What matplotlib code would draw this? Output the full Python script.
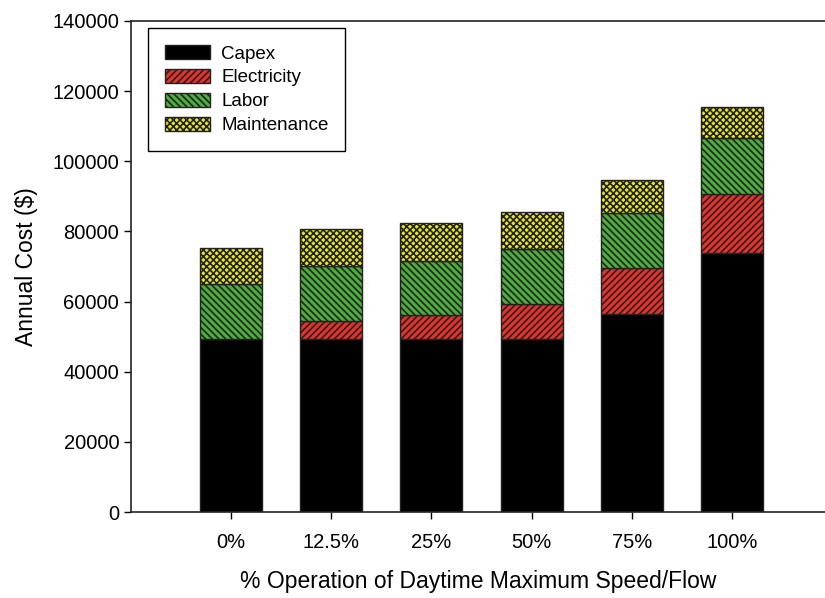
import numpy as np
import matplotlib
matplotlib.use("Agg")
import matplotlib.pyplot as plt

plt.rcParams['font.family'] = ['Liberation Sans', 'DejaVu Sans']
plt.rcParams['hatch.linewidth'] = 1.2

categories = ["0%", "12.5%", "25%", "50%", "75%", "100%"]
capex = [49300, 49300, 49300, 49300, 56400, 73900]
electricity = [0, 5200, 6900, 10100, 13100, 16700]
labor = [15600, 15600, 15500, 15500, 15700, 16000]
maintenance = [10300, 10600, 10600, 10500, 9500, 8800]

series = [("Capex", capex, "black", ""),
          ("Electricity", electricity, "#e8312a", "/////"),
          ("Labor", labor, "#4caf3c", "\\\\\\\\\\"),
          ("Maintenance", maintenance, "#e8e81c", "xxxxx")]

fig = plt.figure(figsize=(8.25, 5.98), dpi=100)
ax = fig.add_axes([131 / 825, 86 / 598, 1 - 131 / 825, 491 / 598])

x = np.arange(len(categories))
bottom = np.zeros(len(categories))
for name, vals, color, hatch in series:
    ax.bar(x, vals, 0.62, bottom=bottom, color=color, hatch=hatch,
           edgecolor="#222222", linewidth=1.0, label=name)
    bottom += np.array(vals)

ax.set_xlim(-1.0, 5.93)
ax.set_ylim(0, 140000)
ax.set_yticks(np.arange(0, 140001, 20000))
ax.set_xticks(x)
ax.set_xticklabels(categories)
ax.tick_params(axis='both', direction='out', length=5, width=1, labelsize=14.5)
ax.tick_params(axis='x', pad=10)
ax.spines['right'].set_visible(False)
for s in ['left', 'top', 'bottom']:
    ax.spines[s].set_linewidth(1.2)
    ax.spines[s].set_color("#222222")

ax.set_ylabel("Annual Cost ($)", fontsize=16.5, labelpad=10)
ax.set_xlabel("% Operation of Daytime Maximum Speed/Flow", fontsize=16.5, labelpad=13)

leg = ax.legend(loc='upper left', bbox_to_anchor=(0.0245, 0.9857), borderaxespad=0,
                fancybox=False, edgecolor="black", framealpha=1, fontsize=13.5,
                handlelength=2.4, handleheight=0.8, handletextpad=0.6,
                borderpad=0.9, labelspacing=0.33)
leg.get_frame().set_linewidth(1.0)

fig.savefig("out.png", dpi=100)
